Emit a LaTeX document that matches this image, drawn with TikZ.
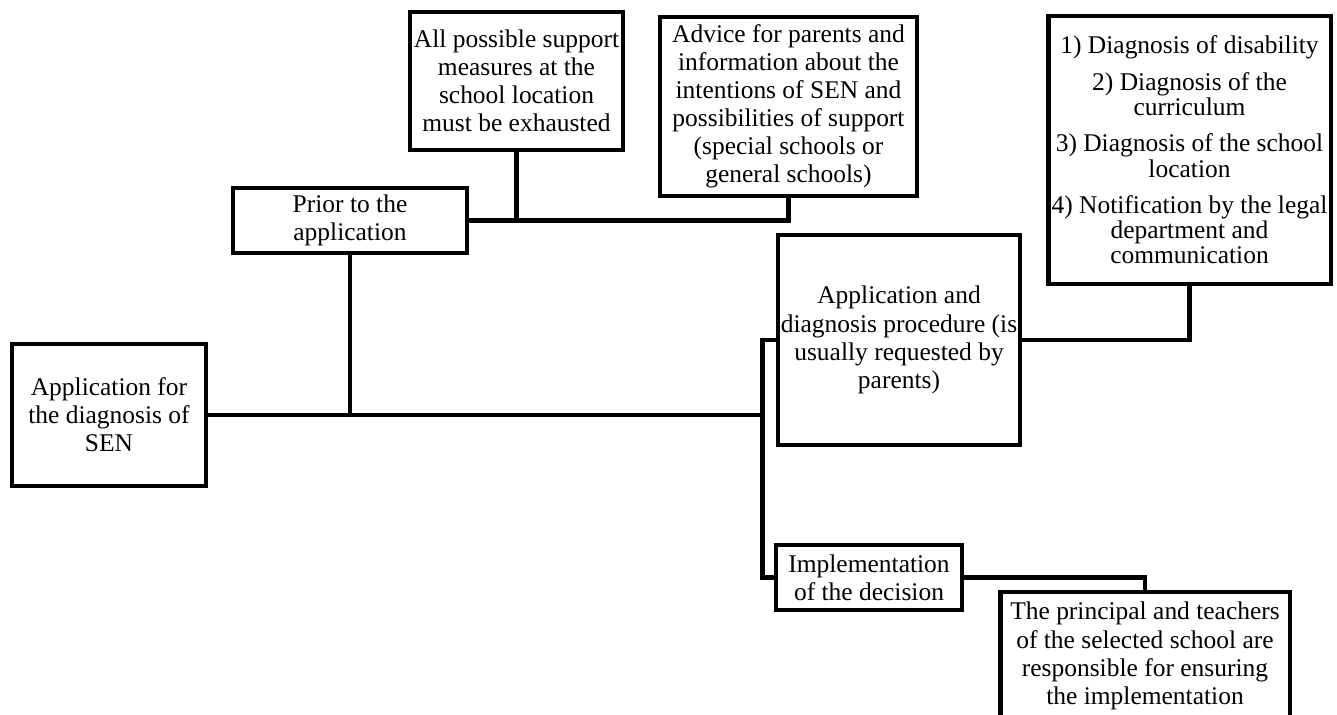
\documentclass[tikz,border=0pt]{standalone}
\usepackage{fontspec}
\setmainfont{Liberation Serif}
\begin{document}
\begin{tikzpicture}[x=0.02cm, y=-0.02cm,
    box/.style={draw, line width=2.8pt, rectangle, inner sep=0pt, align=center,
                font=\fontsize{14.5}{16}\selectfont},
    link/.style={line width=2.8pt}]
    \useasboundingbox (0,0) rectangle (1337,715);

    % Start (left)
    \node[box, minimum width=3.88cm, minimum height=2.84cm] (appl) at (109,415)
        {Application for\\ the diagnosis of\\ SEN};

    % Before the application (top)
    \node[box, minimum width=4.68cm, minimum height=1.30cm] (prior) at (350,220.5)
        {Prior to the\\ application};
    \node[box, minimum width=4.26cm, minimum height=2.76cm] (measures) at (516.5,81)
        {All possible support\\ measures at the\\ school location\\ must be exhausted};
    \node[box, minimum width=5.14cm, minimum height=3.58cm] (advice) at (788.5,106.5)
        {Advice for parents and\\ information about the\\ intentions of SEN and\\
         possibilities of support\\ (special schools or\\ general schools)};

    % Procedure (right)
    \node[box, minimum width=4.84cm, minimum height=4.20cm] (proc) at (899,340)
        {Application and\\ diagnosis procedure (is\\ usually requested by\\ parents)};
    \node[box, minimum width=5.66cm, minimum height=5.36cm,
          font=\fontsize{14.5}{14.3}\selectfont] (diag) at (1189.5,150)
        {1) Diagnosis of disability\\[6.5pt]
         2) Diagnosis of the\\ curriculum\\[6.5pt]
         3) Diagnosis of the school\\ location\\[6.5pt]
         4) Notification by the legal\\ department and\\ communication};

    % Decision (bottom)
    \node[box, minimum width=3.72cm, minimum height=1.30cm] (impl) at (869,577.5)
        {Implementation\\ of the decision};
    \node[box, minimum width=5.80cm, minimum height=2.56cm] (resp) at (1145,656)
        {The principal and teachers\\ of the selected school are\\
         responsible for ensuring\\ the implementation};

    % Connectors
    \coordinate (trunk) at (765,415);
    \draw[link] (appl.east) -- (trunk);
    \draw[link] (prior.south) -- (prior.south |- trunk);
    \draw[link] (prior.east) -| (advice.south);
    \draw[link] (measures.south) -- (measures.south |- prior.east);
    \draw[link] (proc.west) -- ++(-13,0) |- (impl.west);
    \draw[link] (proc.east) -| (diag.south);
    \draw[link] (impl.east) -| (resp.north);
\end{tikzpicture}
\end{document}
